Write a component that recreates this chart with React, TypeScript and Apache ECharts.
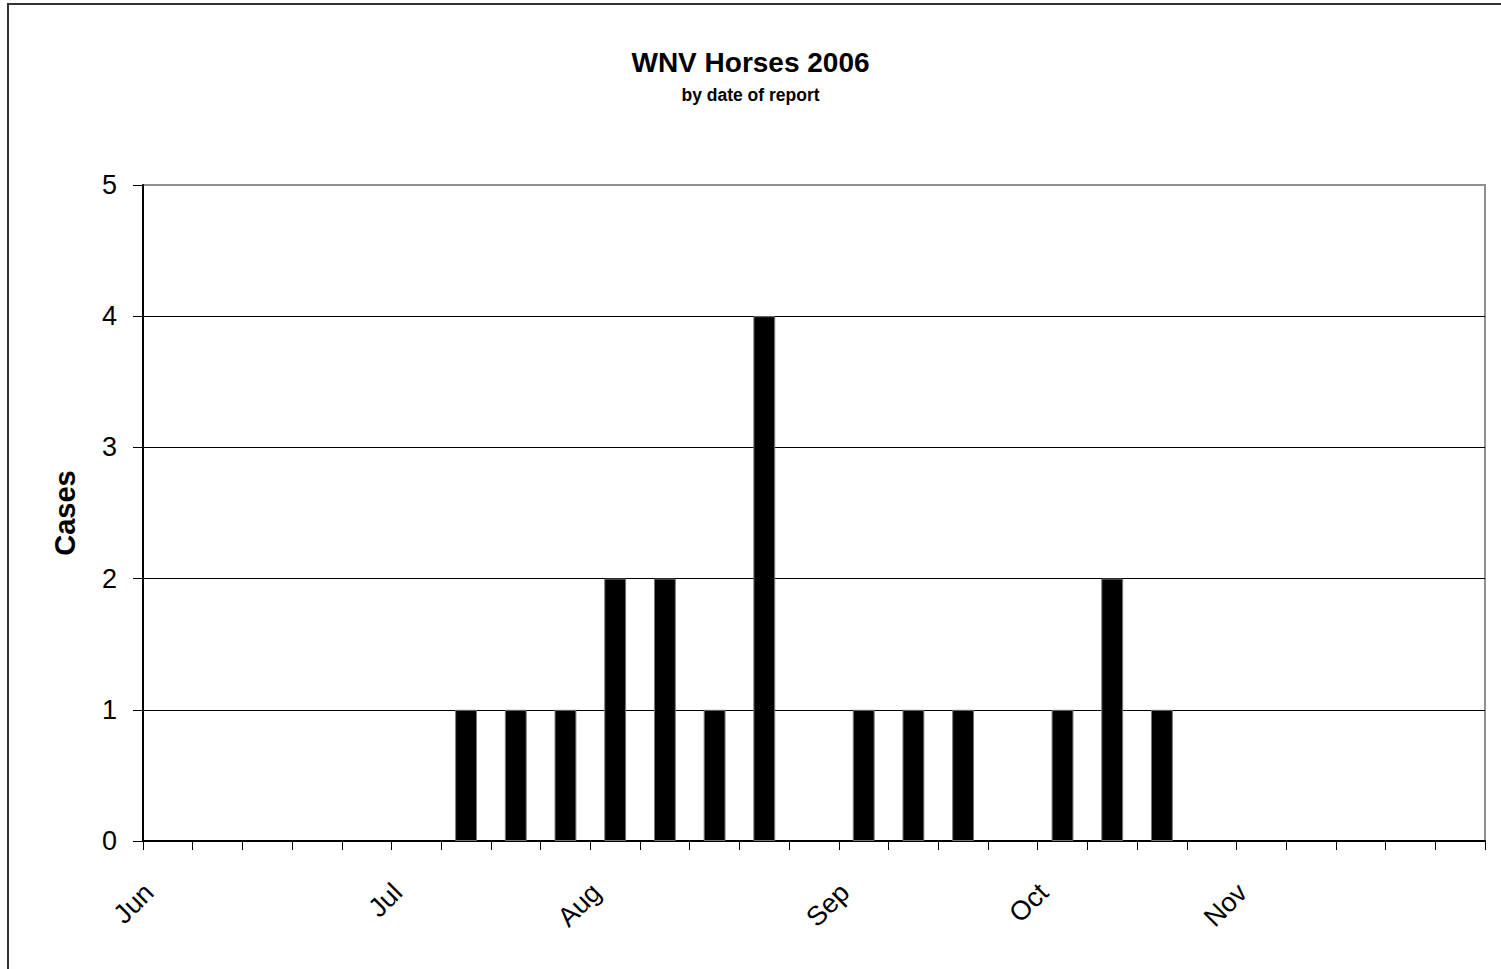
import React, { useEffect, useRef } from "react";
import * as echarts from "echarts";

// 27 weekly bins, June through November 2006
const weeks: string[] = [
  "Jun 1", "Jun 8", "Jun 15", "Jun 22", "Jun 29",
  "Jul 6", "Jul 13", "Jul 20", "Jul 27",
  "Aug 3", "Aug 10", "Aug 17", "Aug 24", "Aug 31",
  "Sep 7", "Sep 14", "Sep 21", "Sep 28",
  "Oct 5", "Oct 12", "Oct 19", "Oct 26",
  "Nov 2", "Nov 9", "Nov 16", "Nov 23", "Nov 30",
];
const cases: number[] = [
  0, 0, 0, 0, 0, 0, 1, 1, 1, 2, 2, 1, 4, 0, 1, 1, 1, 0, 1, 2, 1, 0, 0, 0, 0, 0, 0,
];
// labels on the 28 week boundaries
const boundaryLabels: string[] = [
  "Jun", "", "", "", "", "Jul", "", "", "", "Aug", "", "", "", "", "Sep", "", "", "",
  "Oct", "", "", "", "Nov", "", "", "", "", "",
];
const yTicks = { min: 0, max: 5, interval: 1 };

const FONT = "'Liberation Sans', Arial, sans-serif";

export default function App() {
  const ref = useRef<HTMLDivElement>(null);
  useEffect(() => {
    if (!ref.current) return;
    const chart = echarts.init(ref.current, undefined, { renderer: "svg" });
    chart.setOption({
      animation: false,
      backgroundColor: "#ffffff",
      textStyle: { fontFamily: FONT },
      title: {
        text: "WNV Horses 2006",
        subtext: "by date of report",
        left: "center",
        top: 43,
        itemGap: 10,
        textStyle: { fontFamily: FONT, fontSize: 28, fontWeight: "bold", color: "#000" },
        subtextStyle: { fontFamily: FONT, fontSize: 17.5, fontWeight: "bold", color: "#000" },
      },
      graphic: [
        {
          type: "rect",
          silent: true,
          shape: { x: 8, y: 4, width: 1600, height: 1100 },
          style: { fill: "none", stroke: "#333", lineWidth: 2 },
          z: 100,
        },
      ],
      grid: [
        {
          left: 143, top: 185, width: 1342, height: 656,
          show: true, borderColor: "#909090", borderWidth: 2, backgroundColor: "transparent",
        },
        { left: 149, top: 185, width: 1342, height: 656, show: false },
      ],
      xAxis: [
        {
          type: "category",
          gridIndex: 0,
          data: weeks,
          boundaryGap: true,
          axisLine: { show: true, lineStyle: { color: "#000", width: 2 } },
          axisTick: { show: true, interval: 0, length: 9, lineStyle: { color: "#000", width: 1 } },
          axisLabel: { show: false },
          splitLine: { show: false },
        },
        {
          type: "category",
          gridIndex: 1,
          data: boundaryLabels,
          boundaryGap: false,
          axisLine: { show: false },
          axisTick: { show: false },
          splitLine: { show: false },
          axisLabel: {
            show: true,
            interval: 0,
            rotate: 45,
            margin: 47,
            fontFamily: FONT,
            fontSize: 27,
            color: "#000",
          },
        },
      ],
      yAxis: [
        {
          type: "value",
          gridIndex: 0,
          min: yTicks.min,
          max: yTicks.max,
          interval: yTicks.interval,
          name: "Cases",
          nameLocation: "middle",
          nameRotate: 90,
          nameGap: 64,
          nameTextStyle: { fontFamily: FONT, fontSize: 29, fontWeight: "bold", color: "#000" },
          axisLine: { show: true, lineStyle: { color: "#000", width: 2 } },
          axisTick: { show: true, length: 10, lineStyle: { color: "#000", width: 1 } },
          axisLabel: { fontFamily: FONT, fontSize: 27, color: "#000", margin: 26 },
          splitLine: { show: true, showMaxLine: false, lineStyle: { color: "#000", width: 1 } },
        },
        {
          type: "value",
          gridIndex: 1,
          show: false,
          min: 0,
          max: 5,
        },
      ],
      series: [
        {
          type: "bar",
          xAxisIndex: 0,
          yAxisIndex: 0,
          data: cases.map((v) => (v === 0 ? null : v)),
          barWidth: "44%",
          itemStyle: { color: "#000", borderColor: "#777", borderWidth: 1 },
        },
      ],
    });
    return () => chart.dispose();
  }, []);
  return (
    <div
      ref={ref}
      style={{ position: "absolute", left: 0, top: 0, width: 1501, height: 969 }}
    />
  );
}
